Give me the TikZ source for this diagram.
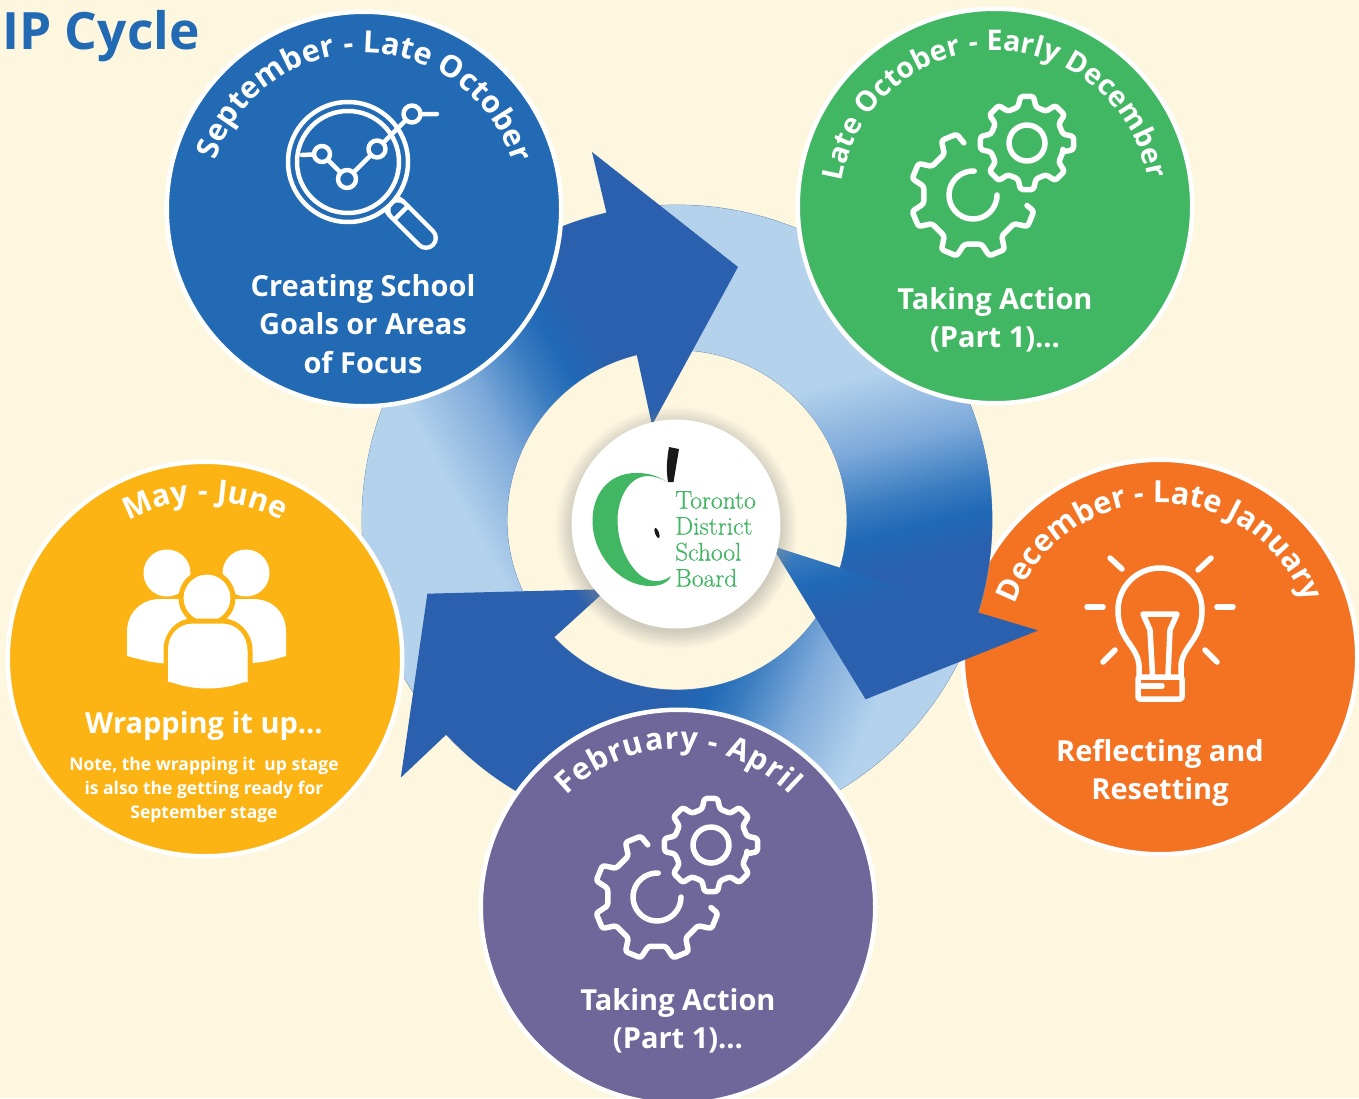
\documentclass[tikz,border=0pt]{standalone}
\usepackage{fontspec}
\usetikzlibrary{decorations.text,shadows}
\newfontfamily\labelfont{Open Sans}
\newfontfamily\logofont[FakeBold=0.4]{Latin Modern Roman}

\definecolor{paper}{HTML}{FEF7E0}
\definecolor{septblue}{HTML}{226AB4}
\definecolor{actgreen}{HTML}{41B663}
\definecolor{resetorange}{HTML}{F47322}
\definecolor{wrapyellow}{HTML}{FCB415}
\definecolor{febpurple}{HTML}{6F6699}
\definecolor{ringlight}{HTML}{B4D2EC}
\definecolor{ringedge}{HTML}{6A8DB8}
\definecolor{fadeone}{HTML}{7EAADA}
\definecolor{fadetwo}{HTML}{3A7CC0}
\definecolor{fadethree}{HTML}{2069B6}
\definecolor{arrowdark}{HTML}{2A60AD}

% 800 units of picture = 50bp of shading, 50bp = the mid tone
\pgfdeclarehorizontalshading{arcfade}{100bp}{color(0bp)=(ringlight); color(45.5bp)=(ringlight);
  color(50bp)=(fadeone); color(53.5bp)=(fadetwo); color(55.5bp)=(fadethree); color(58bp)=(arrowdark);
  color(100bp)=(arrowdark)}

\newcommand{\bodypath}{(hub) ++(-100:315) arc[start angle=-100,end angle=-220,radius=315]
  -- ([shift={(-220:170)}]hub) arc[start angle=-220,end angle=-100,radius=170] -- cycle}
\newcommand{\headpath}{(607,215) -- (592,152) -- (738,267) -- (652,425) -- (637,356) -- cycle}
\newcommand{\curvelabel}[6][30.5]{\path[decorate,decoration={text along path,text align={fit to path},
    text={|\labelfont\bfseries\fontsize{#1}{#1}\selectfont\color{white}|#6}}] (#2) ++(-#4:#3) arc[start angle=-#4,end angle=-#5,radius=#3];}

\tikzset{
  stage/.style={circle,draw=white,line width=4.5pt,minimum size=394.5pt,inner sep=0},
  stagetext/.style={font=\labelfont\bfseries\fontsize{29}{38.5}\selectfont,text=white,align=center},
  notetext/.style={font=\labelfont\bfseries\fontsize{17.5}{24}\selectfont,text=white,align=center},
  logotext/.style={font=\logofont\fontsize{25.5}{26}\selectfont,text=actgreen,align=left,anchor=north west,inner sep=0},
  iconline/.style={draw=white,line width=5.5pt,line cap=round,line join=round},
  gears/.pic={
    \begin{scope}[yscale=-1]
      \draw[iconline,rounded corners=2.5pt] (100:53) \foreach \a in {112.5,157.5,...,292.5}
        {-- (\a-7.5:63) -- (\a+7.5:63) -- (\a+12.5:50) -- (\a+32.5:50)}
        -- (330:63) -- (345:63) -- (349:55);
      \draw[iconline] (87:24) arc[start angle=87,end angle=360,radius=24];
      \begin{scope}[shift={(54,52)}]
        \draw[iconline,rounded corners=2.5pt] (-14:37) \foreach \a in {0,45,...,315}
          {-- (\a-8:47) -- (\a+8:47) -- (\a+14:37) -- (\a+31:37)} -- cycle;
        \draw[iconline] (0,0) circle (18);
      \end{scope}
    \end{scope}
  }
}

\begin{document}
\begin{tikzpicture}[x=1pt,y=-1pt]
  \path[use as bounding box,fill=paper] (0,0) rectangle (1359,1098);
  \coordinate (hub) at (677,520);

  \node[anchor=base west,inner sep=0,text=septblue,font=\labelfont\bfseries\fontsize{51.5}{51.5}\selectfont] (title) at (2,49) {IP Cycle};

  % orange one sits under the ring
  \node[stage,fill=resetorange] (reset) at (1160,657) {};

  \path[fill=ringlight,draw=ringedge,line width=.8pt,even odd rule] (hub) circle (315) (hub) circle (170);
  \foreach \a/\t/\sb in {0/29/-111,-120/44/-24,-240/37/-184}{
    \begin{scope}[transform canvas={rotate around={\a:(hub)}}]
      \clip \bodypath;
      \shade[shading=arcfade,transform canvas={rotate around={\t:(hub)}}] (677+\sb-400,20) rectangle (677+\sb+400,1020);
    \end{scope}
  }
  \foreach \a/\t/\sb in {0/47/-90,-120/44/7,-240/37/-150}{
    \begin{scope}[transform canvas={rotate around={\a:(hub)}}]
      \clip \headpath;
      \shade[shading=arcfade,transform canvas={rotate around={\t:(hub)}}] (677+\sb-400,20) rectangle (677+\sb+400,1020);
    \end{scope}
  }

  \node[stage,fill=septblue] (sept) at (364,209) {};
  \node[stage,fill=actgreen] (late) at (995,206) {};
  \node[stage,fill=wrapyellow] (wrap) at (205,659) {};
  \node[stage,fill=febpurple] (feb) at (678,907) {};
  \node[circle,fill=white,minimum size=209pt,inner sep=0,
    circular drop shadow={shadow xshift=0pt,shadow yshift=-3pt,shadow scale=1.16,fill=black!45,opacity=.4}] (logo) at (676,524) {};

  \curvelabel{sept}{156}{162}{17}{September - Late October}
  \curvelabel[28.5]{late}{155}{171}{10}{Late October - Early December}
  \curvelabel{reset}{154}{160}{21}{December - Late January}
  \curvelabel{wrap}{158}{119}{61}{May - June}
  \curvelabel{feb}{158}{135}{45}{February - April}

  \node[stagetext] (septlabel) at (363,324) {Creating School\\Goals or Areas\\of Focus};
  \node[stagetext] (latelabel) at (995,320) {Taking Action\\(Part 1)…};
  \node[stagetext] (resetlabel) at (1160,773) {Reflecting and\\Resetting};
  \node[stagetext] (wraplabel) at (204,726) {Wrapping it up…};
  \node[notetext] (wrapnote) at (204,790) {Note, the wrapping it~~up stage\\is also the getting ready for\\September stage};
  \node[stagetext] (feblabel) at (678,1021) {Taking Action\\(Part 1)…};

  % magnifier
  \draw[white,line width=24pt,line cap=round] (396,208) -- (426,238);
  \draw[septblue,line width=15pt,line cap=round] (398,210) -- (426,238);
  \draw[iconline,line width=4.5pt,line cap=butt] (408,206) -- (395,219);
  \draw[iconline,line width=4.5pt,fill=septblue] (348,162) circle (60);
  \draw[iconline,line width=4.5pt] (348,162) circle (51);
  \draw[iconline,line width=4.5pt] (302,155) -- (322,154) -- (347,179) -- (377,149) -- (412,114) -- (437,114);
  \foreach \x/\y/\r in {322/154/8,347/179/9,377/149/8.5,412/114/8.5}
    \draw[iconline,line width=4.5pt,fill=septblue] (\x,\y) circle (\r);

  \pic at (973,195) {gears};
  \pic at (657,897) {gears};

  % bulb
  \draw[iconline] (1139,677) -- (1139,665) .. controls (1137,645) and (1118,640) .. (1118,610)
    arc[start angle=180,end angle=360,radius=42] .. controls (1202,640) and (1183,645) .. (1181,665) -- (1181,677);
  \draw[iconline,rounded corners=2pt] (1138,677) rectangle (1182,699);
  \draw[iconline] (1142,686) -- (1162,686);
  \draw[iconline] (1152.5,675) -- (1150,630) -- (1143,614) -- (1177,614) -- (1170,630) -- (1168,675);
  \foreach \x/\y/\u/\v in {1110/558/1122/569,1211/558/1198/570,1087/607/1103/607,1217/607/1233/607,1115/650/1103/662,1205/650/1217/662}
    \draw[iconline] (\x,\y) -- (\u,\v);

  % people
  \fill[white] (167,573) circle (23.5) (246,573) circle (23.5);
  \fill[white] (127,656) -- (127,632) .. controls (127,612) and (142,599) .. (160,599) -- (253,599)
    .. controls (272,599) and (286,612) .. (286,632) -- (286,656) .. controls (265,662) .. (240,664)
    -- (170,664) .. controls (150,662) .. cycle;
  \draw[wrapyellow,line width=5pt,fill=white] (207,598) circle (26);
  \draw[wrapyellow,line width=5pt,fill=white] (166,682) -- (166,650) .. controls (166,634) and (178,621) .. (192,621)
    -- (223,621) .. controls (237,621) and (250,634) .. (250,650) -- (250,682);
  \fill[white] (168,681) -- (168,650) .. controls (168,635) and (178,624) .. (192,624) -- (223,624)
    .. controls (237,624) and (247,635) .. (247,650) -- (247,681) .. controls (222,691) and (193,691) .. cycle;

  % apple
  \fill[actgreen] (667,482) .. controls (655,474) and (645,473) .. (636,473) .. controls (608,473) and (592,495) .. (592.5,522)
    .. controls (593,555) and (620,586) .. (650,586) .. controls (660,586) and (668,583) .. (671,576)
    .. controls (662,583) and (650,583) .. (640,575) .. controls (625,562) and (617.5,540) .. (617.5,520)
    .. controls (617.5,500) and (628,476) .. (648,476) .. controls (655,476) and (662,479) .. cycle;
  \fill[black!90] (669,447) -- (679,449) -- (673.5,482) -- (668,482) .. controls (666,470) and (667,458) .. cycle;
  \fill[black!90,rotate around={20:(657,533)}] (657,533) ellipse (2 and 5.5);
  \node[logotext] (logoname) at (675,491) {Toronto\\District\\School\\Board};
\end{tikzpicture}
\end{document}
